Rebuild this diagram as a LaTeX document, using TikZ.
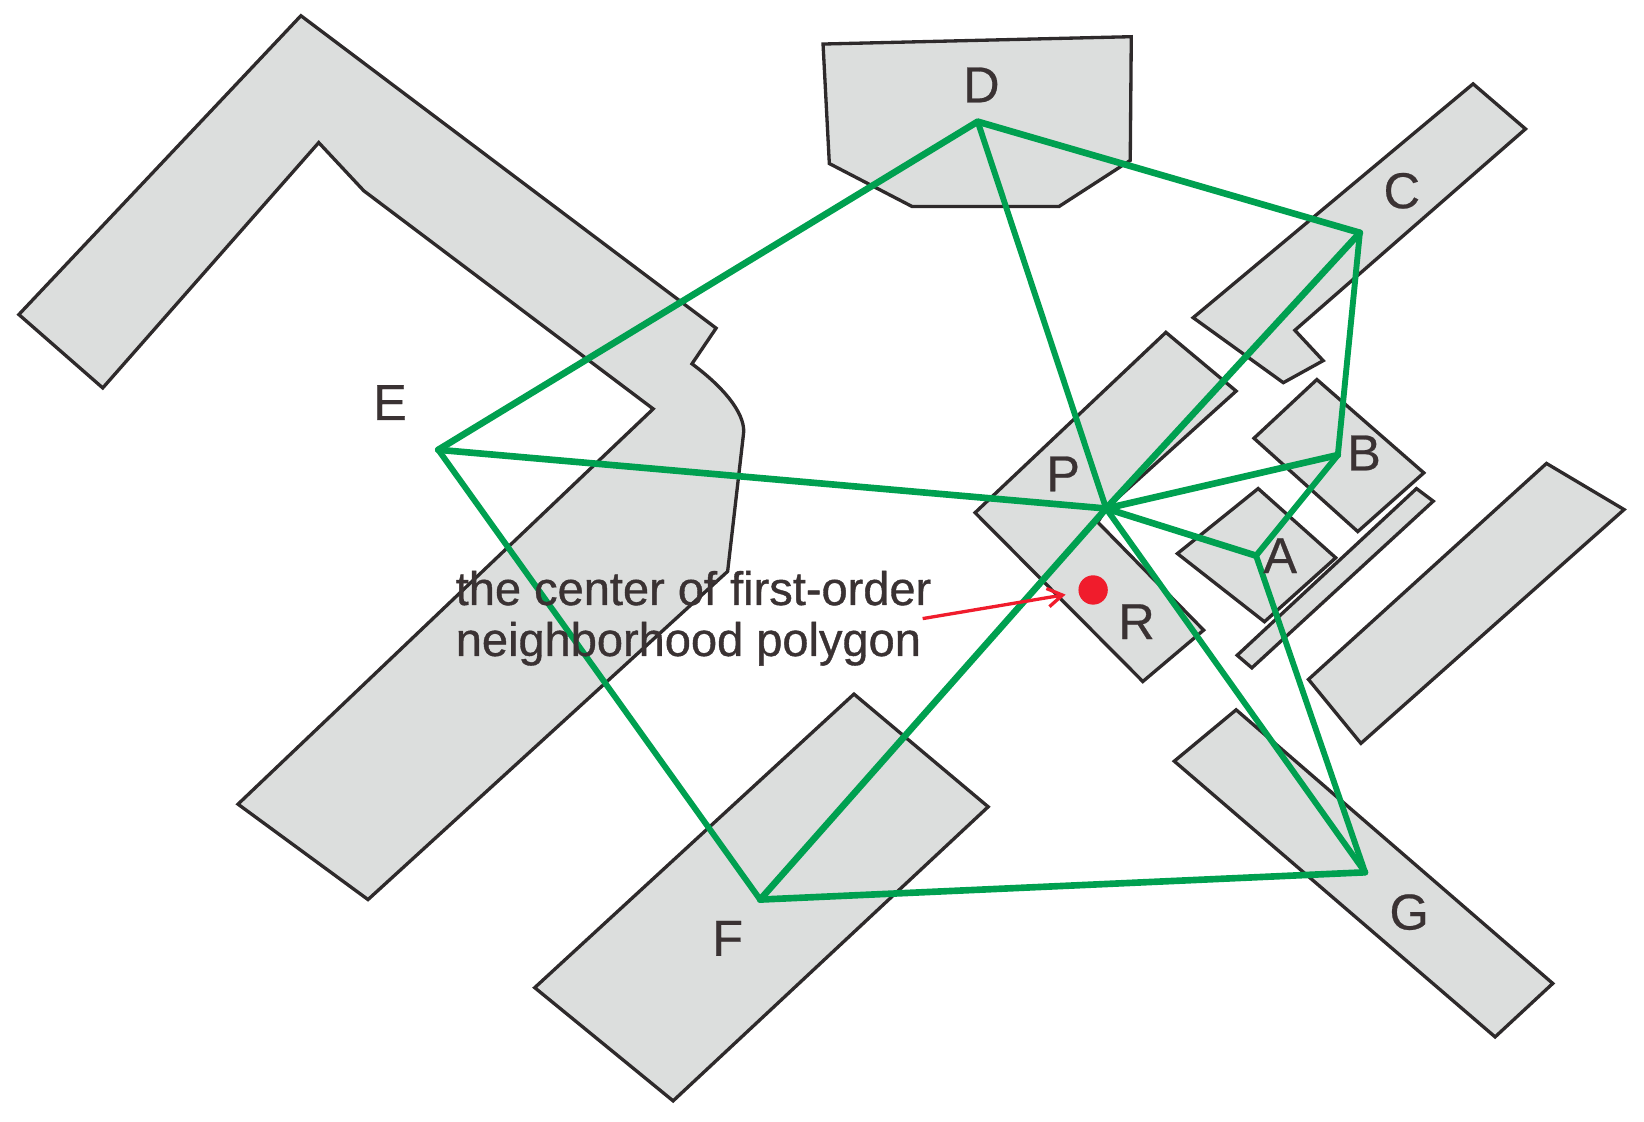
\documentclass[tikz,border=0pt]{standalone}
\usepackage{fontspec}
\setmainfont{Liberation Sans}
\newfontfamily\captionfont[FakeBold=0.8]{Liberation Sans}
\newfontfamily\letterfont[FakeBold=0.5]{Liberation Sans}
\usepackage{xcolor}
\usetikzlibrary{arrows.meta}
\definecolor{plotfill}{HTML}{DCDEDD}
\definecolor{plotedge}{HTML}{2E2A2B}
\definecolor{linkgreen}{HTML}{00A050}
\definecolor{dotred}{HTML}{F01C2C}
\definecolor{labelgray}{HTML}{3A3233}
\tikzset{
    plot/.style={fill=plotfill, draw=plotedge, line width=.9pt, line join=miter},
    link/.style={draw=linkgreen, line width=1.8pt, line join=round, line cap=round},
    thinlink/.style={draw=linkgreen, line width=1.6pt, line join=round, line cap=round},
    letter/.style={text=labelgray, font=\letterfont\fontsize{13.7}{14}\selectfont, inner sep=0pt},
    caption/.style={text=labelgray, font=\captionfont\fontsize{12.75}{14}\selectfont, inner sep=0pt, anchor=west}
}

\begin{document}
\begin{tikzpicture}[x=0.01cm, y=-0.01cm, >={Straight Barb[length=4pt, width=5pt]}]
    \useasboundingbox (0, 0) rectangle (1568, 1070);

    % parcels
    \draw[plot] (287, 15) -- (683, 313) -- (660, 347) .. controls (695, 373) and (712, 398) .. (709, 415)
        -- (694, 545) -- (351, 858) -- (227, 767) -- (623, 390) -- (347, 182) -- (304, 136)
        -- (98, 370) -- (18, 300) -- cycle;
    \draw[plot] (785, 42) -- (1079, 35) -- (1078, 153) -- (1010, 197) -- (870, 197) -- (791, 156) -- cycle;
    \draw[plot] (1405, 80) -- (1455, 123) -- (1235, 315) -- (1262, 344) -- (1224, 365) -- (1138, 303) -- cycle;
    \draw[plot] (1112, 317) -- (1179, 373) -- (1056, 484) -- (1047, 498) -- (1148, 601) -- (1090, 650) -- (930, 489) -- cycle;
    \draw[plot] (1256, 362) -- (1358, 451) -- (1295, 507) -- (1196, 418) -- cycle;
    \draw[plot] (1200, 466) -- (1274, 532) -- (1206, 593) -- (1123, 528) -- cycle;
    \draw[plot] (1351, 466) -- (1367, 478) -- (1194, 637) -- (1180, 625) -- cycle;
    \draw[plot] (1475, 442) -- (1549, 486) -- (1298, 709) -- (1248, 648) -- cycle;
    \draw[plot] (1179, 677) -- (1481, 938) -- (1426, 989) -- (1120, 726) -- cycle;
    \draw[plot] (814.5, 662) -- (942.5, 769.5) -- (642, 1050) -- (510, 942) -- cycle;

    % neighbours
    \coordinate (hub) at (1055, 485);
    \coordinate (ptA) at (1198, 530);
    \coordinate (ptB) at (1276, 434);
    \coordinate (ptC) at (1297, 222);
    \coordinate (ptD) at (932.5, 116);
    \coordinate (ptE) at (418, 429);
    \coordinate (ptF) at (725, 858);
    \coordinate (ptG) at (1302, 832);

    % polygon
    \draw[link] (ptE) -- (ptD) -- (ptC);
    \draw[thinlink] (ptC) -- (ptB) -- (ptA) -- (ptG);
    \draw[link] (ptG) -- (ptF);
    \draw[thinlink] (ptF) -- (ptE);

    % spokes
    \foreach \p in {ptE, ptC, ptB, ptA, ptF}
        \draw[link] (hub) -- (\p);
    \foreach \p in {ptD, ptG}
        \draw[thinlink] (hub) -- (\p);

    % centre
    \node[circle, fill=dotred, minimum size=28*0.01cm, inner sep=0pt] (centerdot) at (1042.6, 562.7) {};
    \coordinate (arrowtail) at (880, 590);
    \draw[->, dotred, line width=.9pt, shorten >=3.4pt] (arrowtail) -- (centerdot);

    % labels
    \node[letter] (lblA) at (1221, 530) {A};
    \node[letter] (lblB) at (1301, 432) {B};
    \node[letter] (lblC) at (1337, 182) {C};
    \node[letter] (lblD) at (936, 81) {D};
    \node[letter] (lblE) at (372, 384) {E};
    \node[letter] (lblF) at (694, 895) {F};
    \node[letter] (lblG) at (1344, 870) {G};
    \node[letter] (lblP) at (1014, 452) {P};
    \node[letter] (lblR) at (1084, 593) {R};
    \node[caption] (capA) at (434, 561) {the center of first-order};
    \node[caption] (capB) at (434, 614) {neighborhood polygon};
\end{tikzpicture}
\end{document}
